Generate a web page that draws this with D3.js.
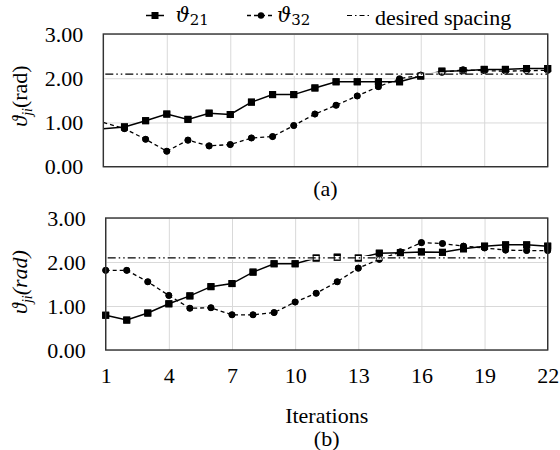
<!DOCTYPE html>
<html>
<head>
<meta charset="utf-8">
<script src="https://cdn.jsdelivr.net/npm/d3@7"></script>
<style>
  body { margin: 0; background: #fff; }
  svg { display: block; }
</style>
</head>
<body>
<script>
var iterations = [1,2,3,4,5,6,7,8,9,10,11,12,13,14,15,16,17,18,19,20,21,22];

// panel (a)
var theta21A = [0.86,0.90,1.04,1.19,1.07,1.21,1.18,1.46,1.63,1.63,1.78,1.92,1.92,1.92,1.92,2.05,2.16,2.17,2.20,2.20,2.22,2.22];
var theta32A = [1.00,0.86,0.62,0.35,0.60,0.47,0.50,0.65,0.68,0.93,1.19,1.39,1.60,1.81,1.99,2.07,2.13,2.19,2.17,2.16,2.17,2.18];
// panel (b)
var theta21B = [0.79,0.68,0.84,1.05,1.23,1.44,1.51,1.77,1.96,1.96,2.09,2.11,2.09,2.20,2.21,2.23,2.22,2.30,2.36,2.39,2.39,2.36];
var theta32B = [1.81,1.81,1.55,1.24,0.95,0.96,0.80,0.80,0.85,1.09,1.29,1.55,1.86,2.06,2.23,2.44,2.42,2.36,2.32,2.27,2.26,2.26];

var desiredSpacing = 2.094;
var xTicks = [1,4,7,10,13,16,19,22];
var yTicks = [0,1,2,3];

var serif = "Liberation Serif, Tinos, DejaVu Serif, serif";
var mathFont = "DejaVu Serif, serif";

var svg = d3.select("body")
    .append("svg")
    .attr("width", 560)
    .attr("height", 450)
    .style("font-family", serif);

var panels = [
    {s21: theta21A, s32: theta32A, left: 103.3, right: 547.7, top: 34, bottom: 166.7,
     firstMarker: false, italicUnit: false, tag: "(a)", tagY: 196, xLabels: false, titleY: 96},
    {s21: theta21B, s32: theta32B, left: 105.7, right: 547.7, top: 218, bottom: 350,
     firstMarker: true, italicUnit: true, tag: "(b)", tagY: 446, xLabels: true, titleY: 282}
];

function styleText(g) {
    g.select(".domain").remove();
    g.attr("font-family", null).attr("font-size", null);
    g.selectAll("text").style("font-family", serif).style("font-size", "22px").attr("fill", "#000");
}

panels.forEach(function(p) {
    var x = d3.scaleLinear().domain([1, 22]).range([p.left, p.right]);
    var y = d3.scaleLinear().domain([0, 3]).range([p.bottom, p.top]);
    var w = p.right - p.left, h = p.bottom - p.top;

    // gridlines
    svg.append("g")
        .attr("transform", "translate(" + p.left + ",0)")
        .call(d3.axisLeft(y).tickValues(yTicks).tickSize(-w).tickFormat(""))
        .call(function(g) {
            g.select(".domain").remove();
            g.selectAll("line").attr("stroke", "#d9d9d9").attr("stroke-width", 1);
        });
    svg.append("g")
        .attr("transform", "translate(0," + p.bottom + ")")
        .call(d3.axisBottom(x).tickValues(xTicks).tickSize(-h).tickFormat(""))
        .call(function(g) {
            g.select(".domain").remove();
            g.selectAll("line").attr("stroke", "#d9d9d9").attr("stroke-width", 1);
        });

    // y tick labels
    svg.append("g")
        .attr("transform", "translate(" + p.left + ",0)")
        .call(d3.axisLeft(y).tickValues(yTicks).tickSize(0).tickPadding(20).tickFormat(d3.format(".2f")))
        .call(styleText);

    if (p.xLabels) {
        svg.append("g")
            .attr("transform", "translate(0," + p.bottom + ")")
            .call(d3.axisBottom(x).tickValues(xTicks).tickSize(0).tickPadding(17))
            .call(styleText);
    }

    var line = d3.line()
        .x(function(d, i) { return x(iterations[i]); })
        .y(function(d) { return y(d); });

    var pts32 = p.s32.map(function(v, i) { return {v: v, i: i}; })
        .filter(function(d) { return p.firstMarker || d.i > 0; });
    var pts21 = p.s21.map(function(v, i) { return {v: v, i: i}; })
        .filter(function(d) { return p.firstMarker || d.i > 0; });

    // theta32 dashed with circles
    svg.append("path")
        .datum(p.s32)
        .attr("d", line)
        .attr("fill", "none")
        .attr("stroke", "#000")
        .attr("stroke-width", 1.3)
        .attr("stroke-dasharray", "4,3");
    var c32 = svg.append("g").selectAll("circle")
        .data(pts32)
        .enter().append("circle")
        .attr("cx", function(d) { return x(iterations[d.i]); })
        .attr("cy", function(d) { return y(d.v); })
        .attr("r", 3.3)
        .attr("fill", "#000");

    // theta21 solid with squares
    svg.append("path")
        .datum(p.s21)
        .attr("d", line)
        .attr("fill", "none")
        .attr("stroke", "#000")
        .attr("stroke-width", 1.5);
    svg.append("g").selectAll("rect")
        .data(pts21)
        .enter().append("rect")
        .attr("x", function(d) { return x(iterations[d.i]) - 3.5; })
        .attr("y", function(d) { return y(d.v) - 3.5; })
        .attr("width", 7)
        .attr("height", 7)
        .attr("fill", "#000");

    // desired spacing: white band under a dash-dot line
    svg.append("line")
        .attr("x1", x(1) + 2).attr("x2", x(22))
        .attr("y1", y(desiredSpacing)).attr("y2", y(desiredSpacing))
        .attr("stroke", "#fff")
        .attr("stroke-width", 3.6);

    // marker outlines stay on top of the band
    svg.append("g").selectAll("circle")
        .data(pts32)
        .enter().append("circle")
        .attr("cx", function(d) { return x(iterations[d.i]); })
        .attr("cy", function(d) { return y(d.v); })
        .attr("r", 3)
        .attr("fill", "none")
        .attr("stroke", "#000")
        .attr("stroke-width", 1);
    svg.append("g").selectAll("rect")
        .data(pts21)
        .enter().append("rect")
        .attr("x", function(d) { return x(iterations[d.i]) - 3; })
        .attr("y", function(d) { return y(d.v) - 3; })
        .attr("width", 6)
        .attr("height", 6)
        .attr("fill", "none")
        .attr("stroke", "#000")
        .attr("stroke-width", 1);

    svg.append("line")
        .attr("x1", x(1) + 2).attr("x2", x(22))
        .attr("y1", y(desiredSpacing)).attr("y2", y(desiredSpacing))
        .attr("stroke", "#000")
        .attr("stroke-width", 1.2)
        .attr("stroke-dasharray", "8,3,1.5,3,1.5,3");

    // frame
    svg.append("rect")
        .attr("x", p.left).attr("y", p.top)
        .attr("width", w).attr("height", h)
        .attr("fill", "none")
        .attr("stroke", "#333")
        .attr("stroke-width", 1.4);

    // y title
    var t = svg.append("text")
        .attr("transform", "translate(27," + p.titleY + ") rotate(-90)")
        .attr("text-anchor", "middle")
        .style("font-family", serif)
        .style("font-size", "22px");
    t.append("tspan").style("font-style", "italic").text("\u03d1");
    t.append("tspan").style("font-style", "italic").style("font-size", "14px").attr("dy", 5).text("ji");
    t.append("tspan").attr("dy", -5).style("font-style", p.italicUnit ? "italic" : "normal").text("(rad)");

    svg.append("text")
        .attr("x", (p.left + p.right) / 2)
        .attr("y", p.tagY)
        .attr("text-anchor", "middle")
        .style("font-size", "22px")
        .text(p.tag);
});

svg.append("text")
    .attr("x", 326.7)
    .attr("y", 423)
    .attr("text-anchor", "middle")
    .style("font-size", "22px")
    .text("Iterations");

// legend
var ly = 15.5;
var lg = svg.append("g");
lg.append("line").attr("x1", 146).attr("x2", 164).attr("y1", ly).attr("y2", ly)
    .attr("stroke", "#000").attr("stroke-width", 1.5);
lg.append("rect").attr("x", 151.5).attr("y", ly - 3.5).attr("width", 7).attr("height", 7).attr("fill", "#000");
lg.append("line").attr("x1", 247).attr("x2", 272).attr("y1", ly).attr("y2", ly)
    .attr("stroke", "#000").attr("stroke-width", 1.3).attr("stroke-dasharray", "4,3");
lg.append("circle").attr("cx", 261).attr("cy", ly).attr("r", 3.2).attr("fill", "#000");
lg.append("line").attr("x1", 347).attr("x2", 372).attr("y1", ly).attr("y2", ly)
    .attr("stroke", "#000").attr("stroke-width", 1.2).attr("stroke-dasharray", "5,3,1.5,3");

[{x: 175.5, sub: "21"}, {x: 277, sub: "32"}].forEach(function(d) {
    var tx = lg.append("text").attr("x", d.x).attr("y", 22)
        .style("font-family", mathFont).style("font-size", "20px");
    tx.append("tspan").style("font-style", "italic").text("\u03d1");
    tx.append("tspan").style("font-size", "15px").attr("dy", 3).text(d.sub);
});
lg.append("text").attr("x", 375).attr("y", 25)
    .style("font-size", "22px")
    .text("desired spacing");
</script>
</body>
</html>
